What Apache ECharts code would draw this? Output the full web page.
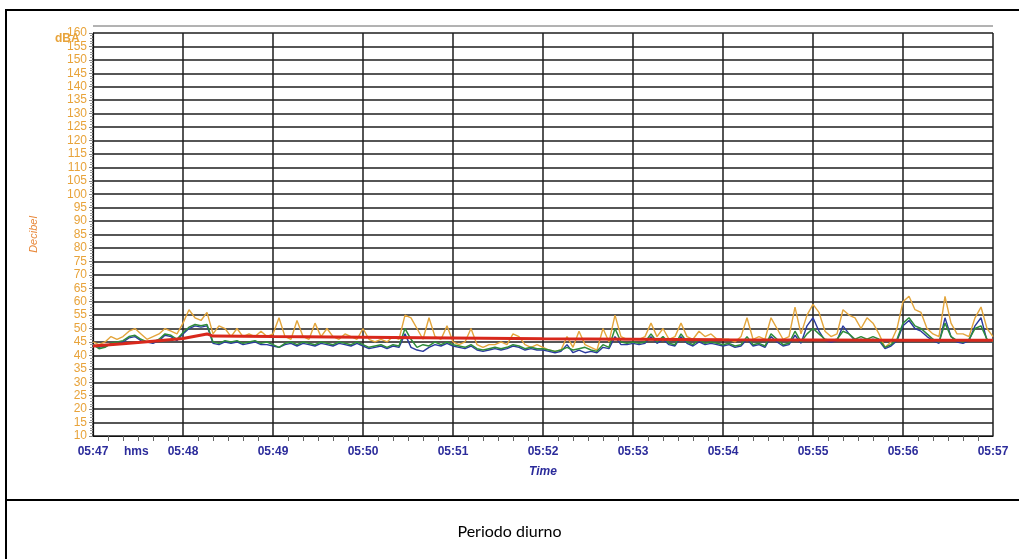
<!DOCTYPE html>
<html>
<head>
<meta charset="utf-8">
<script src="https://cdn.jsdelivr.net/npm/echarts@6/dist/echarts.min.js"></script>
<style>
html,body{margin:0;padding:0;background:#fff;}
#chart{width:1019px;height:559px;}
</style>
</head>
<body>
<div id="chart"></div>
<script>
// Time tick labels (one per minute)
var xLabels = ['05:47','05:48','05:49','05:50','05:51','05:52','05:53','05:54','05:55','05:56','05:57'];
// Sampling step of the level series, seconds from 05:47:00
var stepSec = 4;
// Orange (peak-ish level), dB
var orangeVals = [
  45,44,45,47,46,47,49,50,48,46,47,48,50,49,48,
  52,57,54,53,56,48,51,50,47,50,47,48,47,49,47,
  48,54,47,46,53,47,46,52,47,50,47,46,48,47,46,
  50,46,45,46,45,47,46,55,54,50,46,54,47,46,51,
  45,44,45,50,44,43,44,44,45,44,48,47,44,43,44,
  43,42,41.5,42,47,43,49,44,43,42,50,45,55,47,46,
  46,46,47,52,47,50,46,47,52,47,46,49,47,48,46,
  46,46,45,47,54,46,47,46,54,50,46,47,58,48,55,
  59,56,49,47,48,57,55,54,50,54,52,48,43,45,50,
  60,62,57,56,50,48,47,62,52,48,48,47,54,58,50,
  47
];
// Green level, dB
var greenVals = [
  44,42.5,43,44.5,45,45.5,47,47.5,46,45,45,46,48,47.5,46,
  48.5,50.5,51.5,51,51.5,45,44.5,45.5,45,45.5,44.5,45,45.5,44.5,45,
  44,43,44.5,45,44,45,44.5,44,45,44.5,44,45,44.5,44,45,
  44,43,43.5,44,43,44,43.5,50,46,43,44,43.5,45,44,45,
  44,43.5,43,44,42.5,42,42.5,43,42.5,43,44,43.5,42.5,43,42.5,
  42.5,42,41.5,42,43,42,42.5,43,42,41.5,44,43,50,45,44.5,
  45,44.5,45,48,45,47,44.5,44,48,45,44,46,44.5,45,44.5,
  44,44.5,43.5,44,47,44,44.5,43.5,48,46,44,44.5,49,45,48,
  50,48,46,45.5,46,49,48,46,47,46,47,46,43,44,46,
  52,54,51,50,48,46,45,52,47,45.5,45,46,50,51,46,
  45
];
// Blue level, dB
var blueVals = [
  44,43,43.5,44,45,45,46.5,47,45.5,45,44.5,45.5,47.5,47,45.5,
  48,50,51,50.5,51,44.5,44,45,44.5,45,44,44.5,45,44,44,
  43.5,43,44,44.5,43.5,44.5,44,43.5,44.5,44,43.5,44.5,44,43.5,44.5,
  43.5,42.5,43,43.5,42.5,43.5,43,48,43,42,41.5,43,44,43.5,44.5,
  43.5,43,42.5,43.5,42,41.5,42,42.5,42,42.5,43.5,43,42,42.5,42,
  42,41.5,41,41.5,44,41,42,41,41.5,41,43,42.5,47,44,44,
  44.5,44,44.5,47,44.5,46,44,43.5,47,44.5,43.5,45,44,44.5,44,
  43.5,44,43,43.5,46,43.5,44,43,47,45,43.5,44,47.5,44.5,51,
  54,49,45.5,45,45.5,51,48,45.5,46,45.5,46,45.5,42.5,43.5,45.5,
  51,53,50,49,47,45.5,44.5,54,47,45,44.5,45.5,51,54,45.5,
  45
];
// Red running average: times (s from 05:47:00) and values (dB)
var redTimes = [0,20,40,60,76,80,120,180,240,300,360,420,480,540,600];
var redVals  = [43.5,44.3,45.3,46.3,48,47.2,47,46.8,46.5,46.2,46,45.8,45.7,45.6,45.6];

function toPairs(vals){ return vals.map(function(v,i){ return [i*stepSec, v]; }); }
var redPairs = redTimes.map(function(t,i){ return [t, redVals[i]]; });

var chart = echarts.init(document.getElementById('chart'));
var labelFont = 'Liberation Sans, Arial, sans-serif';
chart.setOption({
  backgroundColor:'#ffffff',
  animation:false,
  grid:{left:93,right:26,top:33,bottom:123,containLabel:false},
  xAxis:{
    type:'value',min:0,max:600,interval:60,
    axisLine:{show:true,lineStyle:{color:'#111',width:1.2}},
    axisTick:{show:false},
    minorTick:{show:true,splitNumber:6,length:5,lineStyle:{color:'#666'}},
    axisLabel:{color:'#2b2b9b',fontWeight:'bold',fontSize:12,fontFamily:labelFont,margin:10,
      formatter:function(v){ return xLabels[Math.round(v/60)]; }},
    splitLine:{show:true,lineStyle:{color:'#1e1e1e',width:1.5}},
    name:'Time',nameLocation:'middle',nameGap:30,
    nameTextStyle:{color:'#2b2b9b',fontWeight:'bold',fontStyle:'italic',fontSize:12,fontFamily:labelFont}
  },
  yAxis:{
    type:'value',min:10,max:160,interval:5,
    axisLine:{show:true,lineStyle:{color:'#111',width:1.2}},
    axisTick:{show:true,length:4,lineStyle:{color:'#888'}},
    minorTick:{show:true,splitNumber:5,length:3,lineStyle:{color:'#999'}},
    axisLabel:{color:'#e8a33a',fontSize:12,fontFamily:labelFont,margin:6},
    splitLine:{show:true,lineStyle:{color:'#1e1e1e',width:1.5}},
    name:'Decibel',nameLocation:'middle',nameGap:54,nameRotate:90,
    nameTextStyle:{color:'#e8883a',fontStyle:'italic',fontSize:11,fontFamily:labelFont}
  },
  series:[
    {name:'orange',type:'line',data:toPairs(orangeVals),showSymbol:false,lineStyle:{color:'#e3a53c',width:1.4},z:2},
    {name:'blue',type:'line',data:toPairs(blueVals),showSymbol:false,lineStyle:{color:'#2a3a9e',width:1.4},z:3},
    {name:'green',type:'line',data:toPairs(greenVals),showSymbol:false,lineStyle:{color:'#2e8b3a',width:1.5},z:4},
    {name:'red',type:'line',data:redPairs,showSymbol:false,lineStyle:{color:'#d8281c',width:3},z:5}
  ],
  graphic:[
    {type:'line',shape:{x1:6,y1:10,x2:1019,y2:10},style:{stroke:'#000',lineWidth:2}},
    {type:'line',shape:{x1:6,y1:9,x2:6,y2:559},style:{stroke:'#000',lineWidth:2}},
    {type:'line',shape:{x1:6,y1:500,x2:1019,y2:500},style:{stroke:'#000',lineWidth:2}},
    {type:'line',shape:{x1:93,y1:26,x2:993,y2:26},style:{stroke:'#666',lineWidth:1}},
    {type:'text',left:55,top:33,style:{text:'dBA',fill:'#e8a33a',font:'bold 12px Liberation Sans, Arial, sans-serif'}},
    {type:'text',left:124,top:446,style:{text:'hms',fill:'#2b2b9b',font:'bold 12px Liberation Sans, Arial, sans-serif'}},
    {type:'text',left:'center',top:524,style:{text:'Periodo diurno',fill:'#000',font:'16px Lato, Open Sans, sans-serif'}}
  ]
});
</script>
</body>
</html>
